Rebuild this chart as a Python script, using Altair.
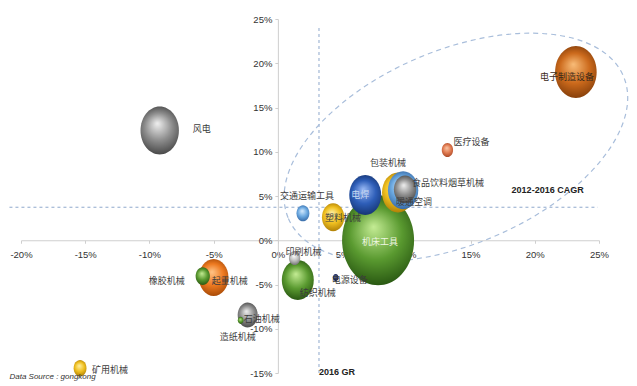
import altair as alt
import pandas as pd

# ---- data ----
names = ["风电", "电子制造设备", "医疗设备", "包装机械", "食品饮料烟草机械", "暖通空调",
         "电焊", "交通运输工具", "塑料机械", "机床工具", "印刷机械", "纺织机械",
         "电源设备", "起重机械", "橡胶机械", "石油机械", "造纸机械", "矿用机械"]
gr_2016 = [-9.2, 23.2, 13.2, 9.35, 9.75, 9.9, 6.8, 1.95, 4.3, 7.8, 1.3, 1.55,
           4.5, -5.0, -5.85, -2.35, -2.9, -15.4]
cagr_2012_2016 = [12.4, 19.0, 10.2, 5.4, 5.65, 5.75, 5.1, 3.05, 2.6, 0.0, -2.0, -4.5,
                  -4.2, -4.2, -4.05, -8.45, -9.05, -14.45]
market_scale = [23, 27, 2, 16, 14.4, 7.8, 16, 2.6, 7.8, 81, 2, 16,
                0.5, 13.7, 3.2, 6.3, 0.5, 2.6]

x_ticks = [-20, -15, -10, -5, 0, 5, 10, 15, 20, 25]
y_ticks = [-15, -10, -5, 0, 5, 10, 15, 20, 25]
gr_avg = 3.2      # 2016 GR reference line
cagr_avg = 3.73   # 2012-2016 CAGR reference line

df = pd.DataFrame({"name": names, "gr": gr_2016, "cagr": cagr_2012_2016, "scale": market_scale})

# ---- styles ----
palette = {
    "grey": ("#f0f0f0", "#8c8c8c", "#363636"),
    "lightgrey": ("#ffffff", "#bdbdbd", "#606060"),
    "brown": ("#f8bc78", "#cc6a1c", "#743406"),
    "salmon": ("#fbc8a8", "#e07a50", "#9c3c1c"),
    "yellow": ("#fff2a8", "#f0c020", "#a07000"),
    "lightblue": ("#d8ecff", "#6aa8e0", "#2a5a98"),
    "blue": ("#98b8f4", "#2e5eb8", "#0f2a60"),
    "green": ("#c4ec94", "#5a9a30", "#1c460a"),
    "navy": ("#8898c8", "#203070", "#0a1030"),
    "orange": ("#ffc488", "#ee7a20", "#963e00"),
}
bubble_color = {
    "风电": "grey", "电子制造设备": "brown", "医疗设备": "salmon", "包装机械": "yellow",
    "食品饮料烟草机械": "lightblue", "暖通空调": "grey", "电焊": "blue",
    "交通运输工具": "lightblue", "塑料机械": "yellow", "机床工具": "green",
    "印刷机械": "lightgrey", "纺织机械": "green", "电源设备": "navy", "起重机械": "orange",
    "橡胶机械": "green", "石油机械": "grey", "造纸机械": "green", "矿用机械": "yellow",
}
label_offset = {
    "风电": (42, -2), "电子制造设备": (-9, 5), "医疗设备": (24, -8), "包装机械": (-10, -29),
    "食品饮料烟草机械": (45, -7), "暖通空调": (9, 13), "电焊": (-5, 0),
    "交通运输工具": (4, -17), "塑料机械": (10, 1), "机床工具": (2, 2), "印刷机械": (9, -6),
    "纺织机械": (20, 13), "电源设备": (14, 3), "起重机械": (16, 4), "橡胶机械": (-36, 5),
    "石油机械": (14, 4), "造纸机械": (-3, 17), "矿用机械": (30, 2),
}
label_color = {"机床工具": "#eef6e2", "电焊": "#c8d8f0", "电子制造设备": "#3a2a1a"}

CJK = "Noto Sans CJK SC"
NUM = "Liberation Sans Narrow, Liberation Sans, Arial"
AXIS_COL = "#cfcfcf"
DASH_COL = "#8fa8cc"

W, H = 578, 354
XDOM, YDOM = [-20, 25], [-15, 25]
x_off = -(W * (0 - XDOM[0]) / (XDOM[1] - XDOM[0]))
y_off = -(H * (0 - YDOM[0]) / (YDOM[1] - YDOM[0]))

xscale = alt.Scale(domain=XDOM, nice=False, zero=False)
yscale = alt.Scale(domain=YDOM, nice=False, zero=False)
xaxis = alt.Axis(values=x_ticks, labelExpr="datum.value + '%'", title=None, grid=False,
                 offset=y_off, domainColor=AXIS_COL, tickColor=AXIS_COL, tickSize=3,
                 labelPadding=6, labelFont=NUM, labelFontSize=9.5, labelColor="#333333",
                 labelFlush=False, labelOverlap=False, labelBound=False)
yaxis = alt.Axis(values=y_ticks, labelExpr="datum.value + '%'", title=None, grid=False,
                 offset=x_off, domainColor=AXIS_COL, tickColor=AXIS_COL, tickSize=3,
                 labelPadding=3, labelFont=NUM, labelFontSize=9.5, labelColor="#333333",
                 labelFlush=False, labelOverlap=False, labelBound=False)


def X():
    return alt.X("gr:Q", scale=xscale, axis=xaxis)


def Y():
    return alt.Y("cagr:Q", scale=yscale, axis=yaxis)


layers = []

# reference lines
vline = pd.DataFrame({"gr": [gr_avg], "cagr": [YDOM[0]], "cagr2": [24.0]})
hline = pd.DataFrame({"gr": [-20.9], "gr2": [24.9], "cagr": [cagr_avg]})
layers.append(alt.Chart(vline).mark_rule(color=DASH_COL, strokeDash=[3, 3], strokeWidth=1)
              .encode(x=X(), y=Y(), y2="cagr2:Q"))
layers.append(alt.Chart(hline).mark_rule(color=DASH_COL, strokeDash=[3, 3], strokeWidth=1)
              .encode(x=X(), x2="gr2:Q", y=Y()))

# dashed ellipse around the high-growth group
ell = pd.DataFrame({"gr": [13.86], "cagr": [10.5]})
ellipse_path = "M -1 0 A 1 0.533 0 1 0 1 0 A 1 0.533 0 1 0 -1 0 Z"
layers.append(alt.Chart(ell).mark_point(shape=ellipse_path, size=364 * 364, angle=337,
                                        filled=False, stroke="#a9bedb", strokeWidth=1.2,
                                        strokeDash=[5, 4], opacity=1)
              .encode(x=X(), y=Y()))

# bubbles, largest first so small ones are drawn on top
bubble_path = "M -0.8 0 A 0.8 1 0 1 0 0.8 0 A 0.8 1 0 1 0 -0.8 0 Z"
order = sorted(range(len(names)), key=lambda i: -market_scale[i])
for i in order:
    n = names[i]
    light, base, dark = palette[bubble_color[n]]
    grad = {"gradient": "radial", "x1": 0.45, "y1": 0.35, "r1": 0.0,
            "x2": 0.5, "y2": 0.5, "r2": 0.58,
            "stops": [{"offset": 0, "color": light}, {"offset": 0.5, "color": base},
                      {"offset": 1, "color": dark}]}
    layers.append(alt.Chart(df).transform_filter(alt.FieldEqualPredicate(field="name", equal=n))
                  .mark_point(shape=bubble_path, filled=True, fill=grad, opacity=1, strokeWidth=0)
                  .encode(x=X(), y=Y(),
                          size=alt.Size("scale:Q", scale=alt.Scale(domain=[0, 100], range=[0, 10000]),
                                        legend=None)))

# labels
for n in names:
    dx, dy = label_offset[n]
    layers.append(alt.Chart(df).transform_filter(alt.FieldEqualPredicate(field="name", equal=n))
                  .mark_text(dx=dx, dy=dy, font=CJK, fontSize=9,
                             color=label_color.get(n, "#3c3c3c"))
                  .encode(x=X(), y=Y(), text="name:N"))

# annotations
ann = pd.DataFrame({
    "gr": [21.0, 4.6],
    "cagr": [5.65, -14.9],
    "txt": ["2012-2016 CAGR", "2016 GR"],
})
layers.append(alt.Chart(ann).mark_text(font=NUM, fontSize=9, fontWeight="bold", color="#222222")
              .encode(x=X(), y=Y(), text="txt:N"))
src = pd.DataFrame({"gr": [-20.9], "cagr": [-15.5], "txt": ["Data Source : gongkong"]})
layers.append(alt.Chart(src).mark_text(font=NUM, fontSize=8, fontStyle="italic", align="left",
                                       color="#333333")
              .encode(x=X(), y=Y(), text="txt:N"))

chart = alt.layer(*layers).properties(
    width=W, height=H,
    autosize=alt.AutoSizeParams(type="none"),
    padding={"left": 13, "top": 11, "right": 30, "bottom": 12},
    background="white",
).configure_view(stroke=None)

chart.save("out.html", embed_options={"renderer": "svg", "actions": False})
